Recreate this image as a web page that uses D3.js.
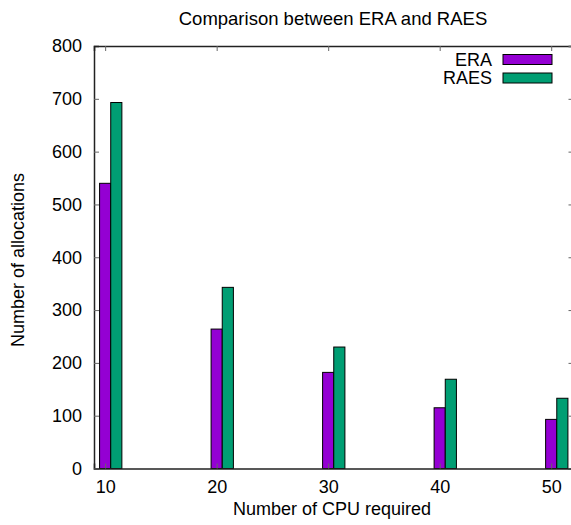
<!DOCTYPE html>
<html>
<head>
<meta charset="utf-8">
<script src="https://cdn.jsdelivr.net/npm/d3@7"></script>
<style>
  body { margin: 0; background: #fff; }
  svg { display: block; font-family: "Liberation Sans", Arial, Helvetica, sans-serif; }
</style>
</head>
<body>
<div class="canvas"></div>
<script>
// chart data
const cpus = [10, 20, 30, 40, 50];
const era = [540, 264, 182, 115, 93];
const raes = [693, 343, 230, 169, 133];
const yTicks = [0, 100, 200, 300, 400, 500, 600, 700, 800];
const seriesNames = ['ERA', 'RAES'];
const seriesColors = ['#9400d3', '#009e73'];

const svg = d3.select('.canvas')
                .append('svg')
                .attr('width', 571)
                .attr('height', 525);

// plot box (right edge falls just off the picture, like the original)
const margin = {top: 46, left: 94};
const graphWidth = 479.5;
const graphHeight = 422.5;

const graph = svg.append('g')
                    .attr('transform', `translate(${margin.left}, ${margin.top})`);

const x = d3.scaleLinear()
            .domain([9, 52])
            .range([0, graphWidth]);

const y = d3.scaleLinear()
            .domain([0, 800])
            .range([graphHeight, 0]);

const barW = x(1) - x(0);
const series = [era, raes];

// bars: ERA centred on x, RAES one unit to the right
series.forEach((vals, s) => {
    graph.selectAll('rect.s' + s)
        .data(vals)
        .enter()
        .append('rect')
        .attr('class', 's' + s)
        .attr('x', (d, i) => x(cpus[i] + s - 0.5))
        .attr('width', barW)
        .attr('y', d => y(d))
        .attr('height', d => graphHeight - y(d))
        .attr('fill', seriesColors[s])
        .attr('stroke', '#000')
        .attr('stroke-width', 1);
});

// axes with inward ticks
const xAxis = d3.axisBottom(x).tickValues(cpus).tickSize(-5).tickPadding(12);
const yAxis = d3.axisLeft(y).tickValues(yTicks).tickSize(-5).tickPadding(12);

const xAxisGroup = graph.append('g')
                        .attr('transform', `translate(0, ${graphHeight})`)
                        .call(xAxis);
const yAxisGroup = graph.append('g').call(yAxis);

// mirrored ticks on top and right
graph.append('g')
    .call(d3.axisTop(x).tickValues(cpus).tickSize(-5).tickFormat(''));
graph.append('g')
    .attr('transform', `translate(${graphWidth}, 0)`)
    .call(d3.axisRight(y).tickValues(yTicks).tickSize(-5).tickFormat(''));

graph.selectAll('.domain')
    .attr('stroke', '#222')
    .attr('stroke-width', 1.5);
graph.selectAll('.tick line')
    .attr('stroke', '#666');
graph.selectAll('.tick text')
    .attr('font-size', 18)
    .attr('font-family', '"Liberation Sans", Arial, sans-serif')
    .attr('fill', '#000');

// titles
svg.append('text')
    .attr('x', 333)
    .attr('y', 25)
    .attr('text-anchor', 'middle')
    .attr('font-size', 18.5)
    .text('Comparison between ERA and RAES');

svg.append('text')
    .attr('x', 332)
    .attr('y', 515)
    .attr('text-anchor', 'middle')
    .attr('font-size', 18)
    .text('Number of CPU required');

svg.append('text')
    .attr('transform', 'translate(24, 260) rotate(-90)')
    .attr('text-anchor', 'middle')
    .attr('font-size', 18)
    .text('Number of allocations');

// legend
const legend = svg.append('g');
seriesNames.forEach((name, i) => {
    const row = legend.append('g')
                    .attr('transform', `translate(0, ${65.5 + i * 18.5})`);
    row.append('text')
        .attr('x', 492)
        .attr('text-anchor', 'end')
        .attr('font-size', 18)
        .text(name);
    row.append('rect')
        .attr('x', 503)
        .attr('y', -11)
        .attr('width', 49)
        .attr('height', 10)
        .attr('fill', seriesColors[i])
        .attr('stroke', '#000')
        .attr('stroke-width', 1);
});
</script>
</body>
</html>
